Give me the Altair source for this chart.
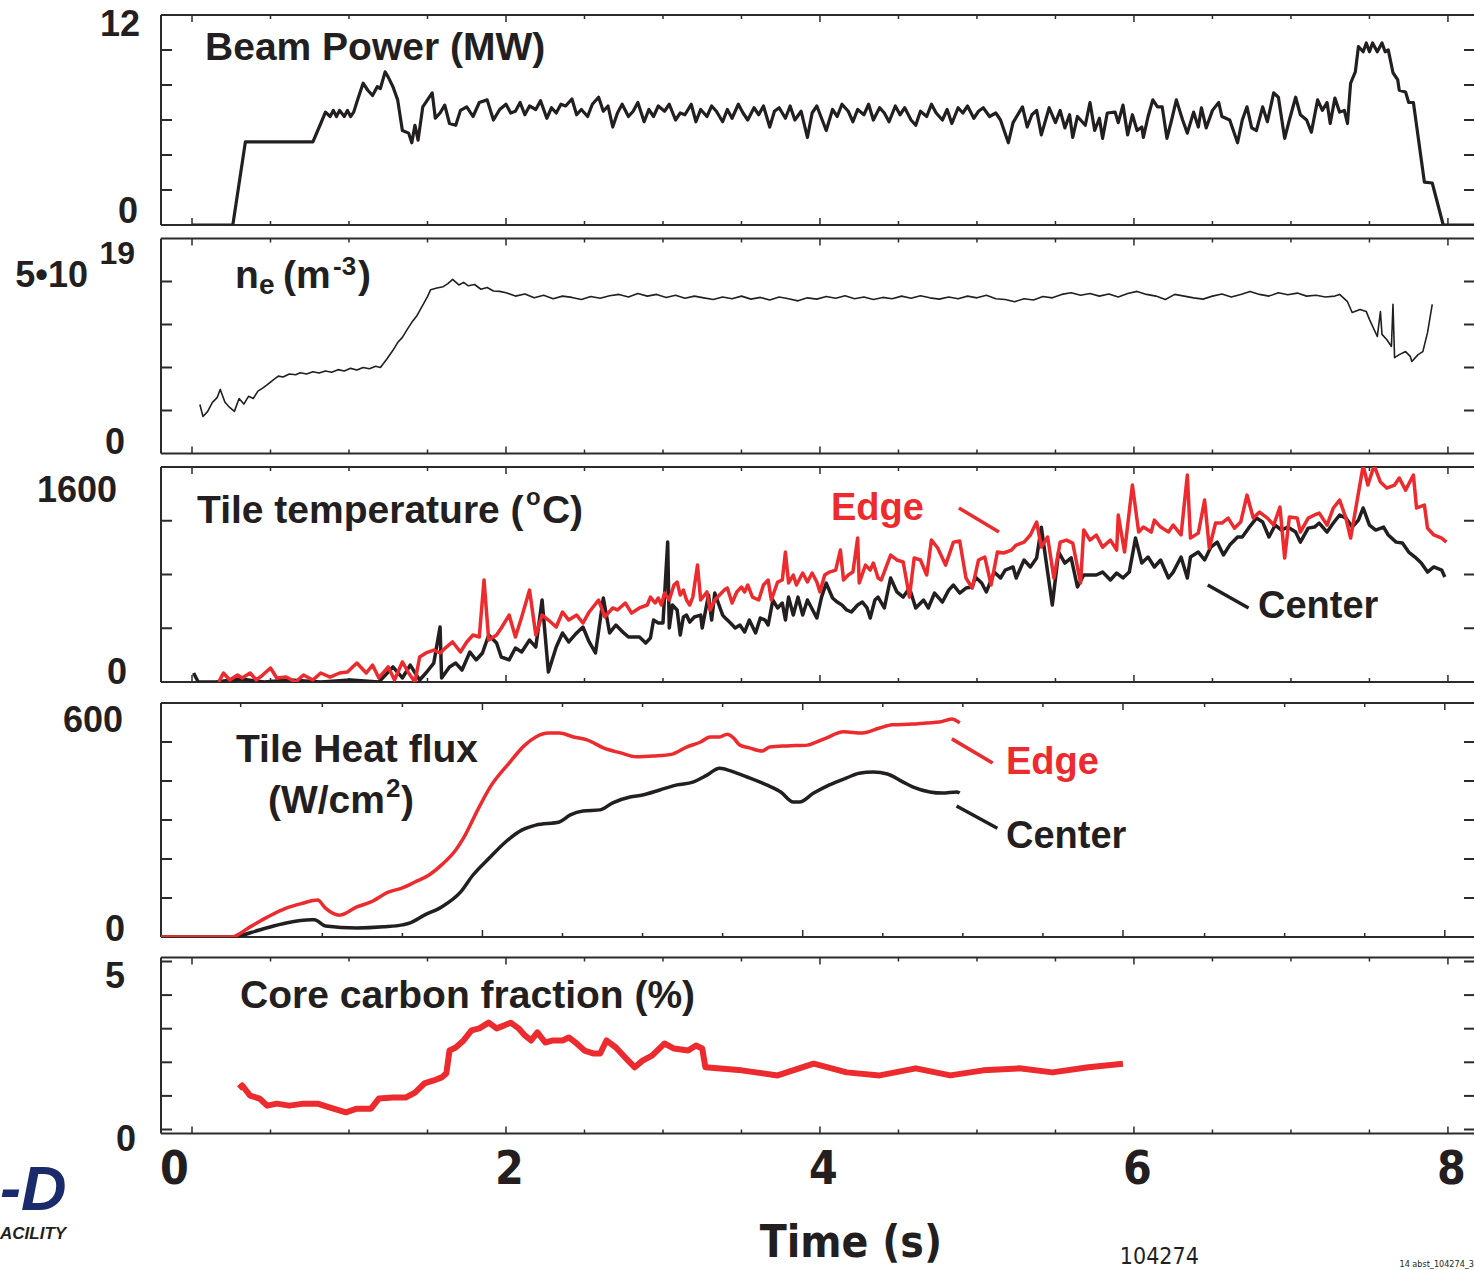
import altair as alt
import pandas as pd

# ---------------- data (time in s, values in panel units) ----------------
beam_power = [(0.00, 0.0), (0.26, 0.0), (0.34, 4.75), (0.77, 4.75), (0.82, 5.8), (0.85, 6.45), (0.88, 6.2), (0.90, 6.55),
              (0.92, 6.2), (0.94, 6.55), (0.97, 6.2), (0.99, 6.55), (1.01, 6.2), (1.03, 6.45), (1.06, 7.3), (1.09, 8.1),
              (1.12, 7.7), (1.15, 7.4), (1.18, 7.9), (1.20, 7.8), (1.23, 8.75), (1.25, 8.45), (1.28, 7.9), (1.31, 7.15),
              (1.34, 5.4), (1.38, 5.25), (1.40, 4.7), (1.42, 5.7), (1.44, 4.85), (1.47, 6.75), (1.50, 7.15), (1.53, 7.55),
              (1.55, 6.1), (1.58, 6.4), (1.61, 6.85), (1.64, 5.8), (1.68, 5.7), (1.71, 6.55), (1.75, 6.75), (1.79, 6.2),
              (1.83, 7.0), (1.88, 7.15), (1.92, 6.0), (1.96, 6.6), (2.00, 6.9), (2.03, 6.4), (2.06, 6.5), (2.09, 7.0),
              (2.12, 6.3), (2.15, 6.8), (2.19, 6.6), (2.22, 7.1), (2.26, 6.1), (2.29, 6.7), (2.32, 6.4), (2.35, 6.9),
              (2.38, 6.8), (2.42, 7.2), (2.45, 6.3), (2.48, 6.6), (2.52, 6.2), (2.55, 6.9), (2.59, 7.3), (2.62, 6.5),
              (2.65, 6.8), (2.68, 5.6), (2.71, 6.4), (2.74, 6.9), (2.78, 6.2), (2.81, 6.5), (2.84, 7.0), (2.88, 5.9),
              (2.91, 6.6), (2.94, 6.2), (2.97, 6.8), (3.01, 6.5), (3.04, 6.9), (3.08, 6.0), (3.11, 6.4), (3.14, 6.3),
              (3.18, 6.9), (3.21, 5.9), (3.24, 6.6), (3.28, 6.2), (3.31, 6.8), (3.34, 6.5), (3.38, 5.9), (3.41, 6.6),
              (3.44, 6.1), (3.48, 6.9), (3.51, 6.4), (3.54, 6.0), (3.58, 6.7), (3.61, 6.3), (3.64, 6.8), (3.68, 5.6),
              (3.71, 6.5), (3.74, 6.7), (3.78, 6.1), (3.81, 6.8), (3.84, 6.0), (3.88, 6.5), (3.92, 5.0), (3.95, 6.4),
              (3.98, 6.8), (4.01, 6.1), (4.04, 5.4), (4.08, 6.6), (4.11, 6.2), (4.14, 6.9), (4.18, 6.5), (4.21, 5.9),
              (4.24, 6.6), (4.28, 6.3), (4.31, 6.9), (4.34, 6.0), (4.38, 6.7), (4.41, 6.4), (4.44, 5.9), (4.48, 6.8),
              (4.51, 6.3), (4.54, 6.7), (4.58, 6.0), (4.61, 5.7), (4.64, 6.5), (4.68, 6.2), (4.71, 6.9), (4.74, 6.4),
              (4.78, 6.0), (4.81, 6.6), (4.84, 5.8), (4.88, 6.7), (4.91, 6.4), (4.94, 6.8), (4.98, 6.1), (5.01, 6.5),
              (5.04, 6.7), (5.08, 6.2), (5.12, 6.4), (5.15, 6.0), (5.20, 4.7), (5.23, 5.85), (5.29, 6.75), (5.32, 5.6),
              (5.35, 6.3), (5.38, 6.55), (5.41, 5.15), (5.46, 6.7), (5.50, 5.85), (5.53, 6.55), (5.56, 5.55), (5.59, 6.3),
              (5.61, 5.0), (5.64, 6.2), (5.69, 5.7), (5.72, 7.0), (5.75, 5.4), (5.78, 6.1), (5.80, 4.95), (5.83, 6.4),
              (5.88, 6.45), (5.90, 5.85), (5.93, 6.85), (5.96, 5.15), (5.99, 6.3), (6.02, 5.4), (6.05, 5.6), (6.06, 5.0),
              (6.09, 6.2), (6.12, 7.15), (6.15, 6.75), (6.18, 6.75), (6.21, 4.95), (6.24, 6.0), (6.27, 7.15), (6.31, 6.0),
              (6.34, 5.25), (6.38, 6.45), (6.41, 5.6), (6.43, 6.7), (6.46, 5.55), (6.50, 6.55), (6.54, 7.0), (6.56, 6.2),
              (6.61, 6.0), (6.66, 4.7), (6.69, 6.0), (6.72, 6.75), (6.75, 5.55), (6.78, 5.4), (6.82, 6.75), (6.85, 5.9),
              (6.89, 7.55), (6.92, 7.3), (6.96, 4.95), (6.99, 6.0), (7.03, 7.3), (7.06, 6.3), (7.10, 6.0), (7.13, 5.3),
              (7.17, 7.15), (7.20, 6.55), (7.23, 7.0), (7.25, 5.8), (7.28, 7.25), (7.31, 6.45), (7.34, 6.55), (7.36, 5.8),
              (7.38, 8.1), (7.41, 8.75), (7.43, 10.2), (7.46, 9.9), (7.48, 10.4), (7.50, 9.9), (7.52, 10.4), (7.55, 9.9),
              (7.58, 10.4), (7.60, 9.9), (7.62, 10.0), (7.65, 8.7), (7.68, 8.3), (7.69, 7.7), (7.73, 7.6), (7.75, 7.0),
              (7.78, 7.0), (7.85, 2.45), (7.90, 2.4), (7.97, 0.0), (8.17, 0.0)]

density = [(0.05, 1.14), (0.07, 0.86), (0.10, 0.98), (0.13, 1.19), (0.16, 1.30), (0.18, 1.49), (0.21, 1.19), (0.24, 1.07),
           (0.27, 0.98), (0.30, 1.28), (0.33, 1.15), (0.36, 1.33), (0.39, 1.28), (0.42, 1.45), (0.45, 1.52), (0.48, 1.60),
           (0.52, 1.72), (0.55, 1.80), (0.58, 1.78), (0.62, 1.85), (0.66, 1.83), (0.69, 1.88), (0.73, 1.85), (0.77, 1.90),
           (0.81, 1.87), (0.85, 1.92), (0.89, 1.89), (0.93, 1.95), (0.97, 1.92), (1.01, 1.98), (1.05, 1.94), (1.09, 2.00),
           (1.13, 1.97), (1.17, 2.03), (1.20, 2.00), (1.24, 2.19), (1.28, 2.40), (1.31, 2.58), (1.34, 2.70), (1.37, 2.88),
           (1.40, 3.05), (1.43, 3.19), (1.47, 3.45), (1.50, 3.65), (1.52, 3.81), (1.56, 3.85), (1.60, 3.88), (1.63, 3.95),
           (1.66, 4.05), (1.70, 3.92), (1.73, 3.98), (1.76, 3.90), (1.80, 3.93), (1.84, 3.82), (1.88, 3.86), (1.92, 3.78),
           (1.96, 3.77), (2.00, 3.74), (2.06, 3.66), (2.12, 3.71), (2.18, 3.62), (2.24, 3.68), (2.30, 3.60), (2.36, 3.66),
           (2.42, 3.63), (2.48, 3.58), (2.54, 3.65), (2.60, 3.61), (2.66, 3.67), (2.72, 3.70), (2.78, 3.64), (2.84, 3.72),
           (2.90, 3.66), (2.96, 3.70), (3.02, 3.63), (3.08, 3.68), (3.14, 3.61), (3.20, 3.66), (3.26, 3.62), (3.32, 3.58),
           (3.38, 3.64), (3.44, 3.60), (3.50, 3.66), (3.56, 3.59), (3.62, 3.63), (3.68, 3.57), (3.74, 3.64), (3.80, 3.60),
           (3.86, 3.55), (3.92, 3.62), (3.98, 3.59), (4.04, 3.65), (4.10, 3.61), (4.16, 3.67), (4.22, 3.60), (4.28, 3.64),
           (4.34, 3.58), (4.40, 3.63), (4.46, 3.60), (4.52, 3.66), (4.58, 3.61), (4.64, 3.67), (4.70, 3.62), (4.76, 3.59),
           (4.82, 3.64), (4.88, 3.60), (4.94, 3.66), (5.00, 3.62), (5.06, 3.68), (5.12, 3.60), (5.18, 3.58), (5.24, 3.53),
           (5.30, 3.60), (5.36, 3.57), (5.42, 3.65), (5.48, 3.62), (5.54, 3.70), (5.60, 3.74), (5.66, 3.68), (5.72, 3.72),
           (5.78, 3.66), (5.84, 3.71), (5.90, 3.64), (5.96, 3.72), (6.02, 3.77), (6.08, 3.70), (6.14, 3.66), (6.20, 3.58),
           (6.26, 3.70), (6.32, 3.66), (6.38, 3.62), (6.44, 3.59), (6.50, 3.66), (6.56, 3.71), (6.62, 3.64), (6.68, 3.70),
           (6.74, 3.77), (6.80, 3.70), (6.86, 3.66), (6.92, 3.74), (6.98, 3.69), (7.04, 3.73), (7.10, 3.66), (7.16, 3.68),
           (7.22, 3.64), (7.28, 3.66), (7.31, 3.70), (7.36, 3.53), (7.39, 3.28), (7.44, 3.35), (7.48, 3.30), (7.50, 3.12),
           (7.55, 2.72), (7.57, 3.30), (7.58, 2.77), (7.61, 2.65), (7.64, 2.49), (7.65, 3.47), (7.66, 2.23), (7.69, 2.30),
           (7.73, 2.37), (7.76, 2.26), (7.77, 2.14), (7.81, 2.30), (7.84, 2.37), (7.87, 2.81), (7.90, 3.47)]

temp_edge = [(0.17, 0), (0.20, 67), (0.24, 15), (0.29, 52), (0.32, 30), (0.37, 67), (0.41, 15), (0.45, 52), (0.50, 104),
             (0.54, 30), (0.60, 37), (0.66, 0), (0.71, 52), (0.77, 15), (0.82, 67), (0.88, 37), (0.94, 67), (0.99, 74),
             (1.05, 141), (1.11, 67), (1.15, 126), (1.19, 30), (1.25, 112), (1.29, 15), (1.34, 149), (1.38, 67), (1.42, 0),
             (1.45, 186), (1.49, 216), (1.54, 238), (1.58, 216), (1.62, 260), (1.66, 298), (1.71, 223), (1.75, 298),
             (1.79, 350), (1.83, 335), (1.86, 759), (1.89, 312), (1.94, 350), (1.97, 402), (2.02, 498), (2.06, 335),
             (2.10, 484), (2.15, 684), (2.19, 350), (2.23, 498), (2.27, 461), (2.32, 409), (2.36, 521), (2.40, 461),
             (2.45, 498), (2.49, 439), (2.53, 521), (2.59, 610), (2.63, 484), (2.68, 551), (2.71, 536), (2.76, 588),
             (2.80, 513), (2.85, 551), (2.90, 573), (2.92, 632), (2.95, 588), (2.97, 625), (2.99, 573), (3.01, 662),
             (3.04, 610), (3.07, 722), (3.09, 744), (3.11, 647), (3.13, 684), (3.15, 610), (3.17, 573), (3.19, 632),
             (3.22, 870), (3.24, 610), (3.28, 670), (3.30, 536), (3.33, 610), (3.36, 647), (3.39, 684), (3.41, 699),
             (3.44, 588), (3.47, 670), (3.50, 707), (3.52, 670), (3.54, 722), (3.57, 632), (3.61, 610), (3.64, 722),
             (3.67, 759), (3.69, 610), (3.73, 744), (3.76, 759), (3.78, 967), (3.80, 737), (3.83, 796), (3.85, 722),
             (3.89, 811), (3.92, 744), (3.95, 811), (3.98, 744), (4.00, 670), (4.03, 796), (4.06, 818), (4.10, 833),
             (4.13, 982), (4.15, 759), (4.18, 796), (4.21, 818), (4.24, 1071), (4.25, 737), (4.29, 870), (4.32, 833),
             (4.34, 885), (4.37, 774), (4.39, 759), (4.45, 945), (4.49, 908), (4.53, 893), (4.57, 632), (4.60, 923),
             (4.64, 908), (4.68, 796), (4.71, 1056), (4.75, 997), (4.80, 870), (4.85, 1041), (4.89, 1049), (4.93, 774),
             (4.97, 699), (5.01, 908), (5.05, 930), (5.09, 722), (5.13, 967), (5.17, 960), (5.22, 982), (5.25, 1019),
             (5.30, 1041), (5.34, 1094), (5.38, 1190), (5.41, 1004), (5.45, 1079), (5.49, 774), (5.53, 1041), (5.57, 1056),
             (5.61, 1034), (5.66, 737), (5.68, 1131), (5.72, 1056), (5.76, 1094), (5.80, 1004), (5.85, 1056), (5.89, 982),
             (5.90, 1243), (5.94, 967), (5.99, 1466), (6.03, 1116), (6.06, 1153), (6.11, 1116), (6.13, 1205), (6.17, 1153),
             (6.22, 1116), (6.25, 1168), (6.30, 1094), (6.34, 1540), (6.36, 1071), (6.41, 1108), (6.45, 1354), (6.48, 997),
             (6.52, 1183), (6.56, 1183), (6.60, 1220), (6.64, 1145), (6.68, 1190), (6.72, 1391), (6.76, 1220), (6.80, 1265),
             (6.85, 1220), (6.89, 1168), (6.93, 1302), (6.96, 923), (6.99, 1228), (7.04, 1220), (7.06, 1116), (7.11, 1220),
             (7.15, 1243), (7.18, 1257), (7.23, 1168), (7.27, 1295), (7.31, 1354), (7.35, 1220), (7.38, 1071), (7.42, 1339),
             (7.46, 1610), (7.49, 1466), (7.53, 1610), (7.57, 1488), (7.61, 1443), (7.66, 1466), (7.69, 1518), (7.73, 1428),
             (7.78, 1540), (7.80, 1295), (7.85, 1317), (7.87, 1145), (7.91, 1094), (7.96, 1071), (7.99, 1041)]

temp_center = [(0.01, 67), (0.04, 0), (0.15, 0), (0.31, 22), (0.46, 0), (0.62, 15), (0.82, 0), (1.01, 15), (1.19, 0),
               (1.28, 112), (1.34, 30), (1.39, 126), (1.45, 15), (1.49, 67), (1.54, 141), (1.58, 409), (1.59, 30),
               (1.64, 112), (1.68, 141), (1.72, 89), (1.77, 223), (1.81, 164), (1.85, 216), (1.89, 350), (1.94, 290),
               (1.97, 186), (2.02, 164), (2.06, 253), (2.10, 223), (2.15, 312), (2.19, 260), (2.23, 610), (2.27, 74),
               (2.32, 260), (2.36, 365), (2.40, 298), (2.45, 365), (2.49, 409), (2.53, 298), (2.57, 216), (2.62, 625),
               (2.66, 365), (2.70, 424), (2.75, 365), (2.78, 335), (2.85, 335), (2.89, 290), (2.92, 327), (2.94, 461),
               (2.97, 439), (3.00, 439), (3.03, 1041), (3.04, 402), (3.06, 573), (3.09, 536), (3.11, 350), (3.13, 484),
               (3.15, 498), (3.17, 446), (3.20, 484), (3.24, 498), (3.25, 402), (3.29, 647), (3.31, 461), (3.33, 662),
               (3.35, 595), (3.38, 498), (3.39, 484), (3.43, 439), (3.46, 402), (3.49, 424), (3.52, 372), (3.55, 461),
               (3.59, 365), (3.62, 476), (3.65, 461), (3.67, 424), (3.70, 610), (3.73, 551), (3.76, 588), (3.78, 461),
               (3.80, 632), (3.83, 498), (3.86, 632), (3.89, 498), (3.92, 610), (3.96, 521), (3.98, 476), (4.01, 632),
               (4.04, 736), (4.08, 625), (4.11, 595), (4.14, 573), (4.17, 536), (4.20, 521), (4.24, 573), (4.27, 595),
               (4.30, 551), (4.32, 476), (4.35, 610), (4.37, 632), (4.41, 551), (4.45, 774), (4.49, 670), (4.53, 632),
               (4.57, 699), (4.61, 551), (4.66, 610), (4.69, 551), (4.73, 662), (4.78, 595), (4.82, 684), (4.85, 722),
               (4.89, 662), (4.93, 699), (4.97, 707), (4.99, 781), (5.03, 737), (5.06, 670), (5.11, 818), (5.15, 774),
               (5.18, 833), (5.23, 856), (5.25, 774), (5.30, 908), (5.34, 856), (5.38, 923), (5.41, 1152), (5.45, 818),
               (5.48, 573), (5.52, 967), (5.56, 885), (5.60, 923), (5.64, 707), (5.68, 796), (5.72, 796), (5.76, 796),
               (5.80, 818), (5.85, 759), (5.89, 811), (5.93, 774), (5.97, 818), (6.01, 1071), (6.05, 885), (6.09, 930),
               (6.13, 856), (6.17, 908), (6.22, 774), (6.25, 818), (6.30, 930), (6.34, 774), (6.36, 930), (6.41, 967),
               (6.45, 908), (6.49, 1004), (6.53, 1041), (6.57, 945), (6.61, 1019), (6.66, 1079), (6.69, 1079), (6.73, 1145),
               (6.78, 1220), (6.82, 1190), (6.86, 1079), (6.90, 1168), (6.94, 1131), (6.98, 1153), (7.03, 1116), (7.06, 1041),
               (7.11, 1145), (7.15, 1153), (7.18, 1183), (7.23, 1116), (7.27, 1183), (7.31, 1243), (7.35, 1220), (7.39, 1153),
               (7.43, 1205), (7.46, 1295), (7.50, 1168), (7.54, 1131), (7.59, 1153), (7.62, 1094), (7.67, 1041), (7.71, 1034),
               (7.75, 967), (7.79, 930), (7.83, 885), (7.87, 818), (7.91, 856), (7.96, 833), (7.98, 781)]

flux_edge = [(-0.20, 0), (0.25, 0), (0.37, 26), (0.48, 51), (0.60, 74), (0.70, 86), (0.80, 95), (0.85, 74), (0.94, 56),
             (1.05, 77), (1.14, 90), (1.25, 115), (1.34, 126), (1.42, 141), (1.51, 159), (1.59, 185), (1.68, 223),
             (1.73, 254), (1.82, 326), (1.90, 385), (2.02, 446), (2.12, 492), (2.19, 513), (2.27, 523), (2.34, 523),
             (2.43, 513), (2.52, 505), (2.62, 485), (2.73, 472), (2.83, 462), (2.94, 464), (3.06, 469), (3.15, 487),
             (3.24, 500), (3.30, 513), (3.36, 513), (3.41, 520), (3.45, 510), (3.49, 492), (3.55, 485), (3.63, 477),
             (3.68, 487), (3.79, 490), (3.92, 492), (3.96, 497), (4.04, 510), (4.15, 526), (4.27, 523), (4.38, 536),
             (4.46, 544), (4.59, 546), (4.68, 549), (4.76, 551), (4.84, 559), (4.89, 549)]

flux_center = [(-0.20, 0), (0.25, 0), (0.43, 18), (0.60, 36), (0.76, 44), (0.78, 44), (0.85, 28), (1.05, 23), (1.22, 26),
               (1.34, 31), (1.39, 36), (1.48, 56), (1.59, 77), (1.71, 115), (1.79, 159), (1.90, 205), (1.99, 241),
               (2.10, 274), (2.19, 287), (2.34, 295), (2.41, 313), (2.49, 323), (2.60, 326), (2.68, 344), (2.79, 359),
               (2.87, 364), (2.98, 377), (3.09, 390), (3.19, 397), (3.28, 415), (3.36, 433), (3.47, 420), (3.55, 408),
               (3.66, 390), (3.75, 372), (3.83, 346), (3.87, 346), (3.96, 369), (4.06, 390), (4.17, 408), (4.25, 420),
               (4.34, 423), (4.43, 418), (4.53, 397), (4.59, 385), (4.70, 372), (4.78, 369), (4.87, 372), (4.89, 369)]

carbon = [(0.30, 1.22), (0.32, 1.31), (0.37, 1.01), (0.43, 0.92), (0.48, 0.71), (0.54, 0.77), (0.62, 0.71), (0.71, 0.77),
          (0.80, 0.77), (0.88, 0.65), (0.98, 0.51), (1.05, 0.62), (1.14, 0.62), (1.19, 0.92), (1.28, 0.95), (1.36, 0.95),
          (1.42, 1.10), (1.48, 1.37), (1.54, 1.46), (1.59, 1.55), (1.62, 1.67), (1.64, 2.35), (1.68, 2.44), (1.73, 2.65),
          (1.78, 2.95), (1.83, 3.01), (1.89, 3.18), (1.94, 3.01), (1.99, 3.10), (2.03, 3.18), (2.08, 3.01), (2.12, 2.80),
          (2.16, 2.65), (2.20, 2.89), (2.25, 2.59), (2.30, 2.65), (2.36, 2.65), (2.40, 2.74), (2.45, 2.56), (2.50, 2.35),
          (2.56, 2.26), (2.60, 2.26), (2.64, 2.65), (2.70, 2.44), (2.76, 2.14), (2.82, 1.85), (2.87, 2.05), (2.93, 2.20),
          (3.01, 2.56), (3.07, 2.41), (3.16, 2.35), (3.21, 2.50), (3.25, 2.41), (3.27, 1.85), (3.50, 1.76), (3.73, 1.61),
          (3.96, 1.96), (4.17, 1.70), (4.38, 1.61), (4.61, 1.82), (4.83, 1.61), (5.04, 1.76), (5.27, 1.82), (5.48, 1.70),
          (5.71, 1.85), (5.93, 1.96)]

time_ticks_minor = [0.5, 1.0, 1.5, 2.5, 3.0, 3.5, 4.5, 5.0, 5.5, 6.5, 7.0, 7.5]
time_ticks_major = [0, 2, 4, 6, 8]
flux_ticks_minor = [0.31, 0.83, 1.34, 2.36, 2.87, 3.38, 4.40, 4.91, 5.42, 6.45, 6.96, 7.47]
flux_ticks_major = [1.85, 3.89, 5.93, 7.98]
time_labels = [0, 2, 4, 6, 8]

# ---------------- styling ----------------
BLACK = "#231f20"
RED = "#ed2a2e"
FRAME = "#2b2b2b"
NAVY = "#1b2a6b"
FONT = "Liberation Sans"
COND = "DejaVu Sans Condensed, Liberation Sans, sans-serif"

W = 1313
XDOM = [-0.1975, 8.166]
XS = alt.Scale(domain=XDOM, nice=False, zero=False)
ONE = pd.DataFrame({"k": [0]})


def yscale(lo, hi, h, off):
    return alt.Scale(domain=[lo, hi], range=[off + h, off], nice=False, zero=False)


def frame(h, off, ys, yticks, xminor, xmajor, xaxis):
    layers = []
    border = alt.Chart(ONE).mark_rule(color=FRAME, strokeWidth=2)
    layers.append(border.encode(y=alt.value(off)))
    layers.append(border.encode(y=alt.value(off + h)))
    layers.append(border.encode(x=alt.value(0), y=alt.value(off), y2=alt.value(off + h)))
    for vals, ln in ((xminor, 4), (xmajor, 7)):
        base = alt.Chart(pd.DataFrame({"t": vals})).mark_rule(color=FRAME, strokeWidth=1.5)
        xe = alt.X("t:Q", scale=XS, axis=xaxis)
        layers.append(base.encode(x=xe, y=alt.value(off), y2=alt.value(off + ln)))
        layers.append(base.encode(x=xe, y=alt.value(off + h - ln), y2=alt.value(off + h)))
    base = alt.Chart(pd.DataFrame({"v": yticks})).mark_rule(color=FRAME, strokeWidth=2)
    ye = alt.Y("v:Q", scale=ys, axis=None)
    layers.append(base.encode(y=ye, x=alt.value(0), x2=alt.value(11)))
    layers.append(base.encode(y=ye, x=alt.value(W - 10), x2=alt.value(W)))
    return layers


def series(pairs, ys, color, width, xaxis, interp="linear"):
    df = pd.DataFrame(pairs, columns=["t", "v"])
    df["i"] = range(len(df))
    return alt.Chart(df).mark_line(color=color, strokeWidth=width, clip=True, interpolate=interp,
                                   strokeJoin="round").encode(
        x=alt.X("t:Q", scale=XS, axis=xaxis),
        y=alt.Y("v:Q", scale=ys, axis=None),
        order="i:Q")


def text(t, v, s, ys, xaxis, size=39, color=BLACK, font=FONT, weight="bold", align="left",
         baseline="alphabetic", style="normal"):
    return alt.Chart(ONE).mark_text(text=s, font=font, fontSize=size, fontWeight=weight, color=color,
                                    align=align, baseline=baseline, fontStyle=style).encode(
        x=alt.XDatum(t, type="quantitative", scale=XS, axis=xaxis),
        y=alt.YDatum(v, type="quantitative", scale=ys, axis=None))


def ylab(px, v, dy, s, ys, size=36):
    return alt.Chart(ONE).mark_text(text=s, font=FONT, fontSize=size, fontWeight="bold", color=BLACK,
                                    align="right", baseline="middle", dy=dy).encode(
        x=alt.value(px), y=alt.YDatum(v, type="quantitative", scale=ys, axis=None))


def pointer(t1, v1, t2, v2, ys, color, xaxis):
    return alt.Chart(ONE).mark_rule(color=color, strokeWidth=3.5).encode(
        x=alt.XDatum(t1, type="quantitative", scale=XS, axis=xaxis), x2=alt.X2Datum(t2),
        y=alt.YDatum(v1, type="quantitative", scale=ys, axis=None), y2=alt.Y2Datum(v2))


# ---------- panel 1: beam power ----------
ys1 = yscale(0, 12, 210, 0)
p1 = alt.layer(
    *frame(210, 0, ys1, [2, 4, 6, 8, 10], time_ticks_minor, time_ticks_major, None),
    series(beam_power, ys1, BLACK, 3.2, None),
    text(0.083, 9.43, "Beam Power (MW)", ys1, None),
    ylab(-21, 12, 10, "12", ys1),
    ylab(-23, 0, -13, "0", ys1),
).properties(width=W, height=210)

# ---------- panel 2: density ----------
ys2 = yscale(0, 5, 215, 0)
p2 = alt.layer(
    *frame(215, 0, ys2, [1, 2, 3, 4], time_ticks_minor, time_ticks_major, None),
    series(density, ys2, BLACK, 1.6, None),
    text(0.274, 3.84, "n", ys2, None),
    text(0.427, 3.70, "e", ys2, None, size=28),
    text(0.58, 3.84, "(m", ys2, None),
    text(0.898, 4.16, "-3", ys2, None, size=26),
    text(1.057, 3.84, ")", ys2, None),
    ylab(-73, 5, 37, "5•10", ys2),
    ylab(-26, 5, 15, "19", ys2, size=32),
    ylab(-36, 0, -11, "0", ys2),
).properties(width=W, height=215)

# ---------- panel 3: tile temperature ----------
ys3 = yscale(0, 1600, 215, 0)
p3 = alt.layer(
    *frame(215, 0, ys3, [400, 800, 1200], time_ticks_minor, time_ticks_major, None),
    series(temp_center, ys3, BLACK, 3.5, None),
    series(temp_edge, ys3, RED, 3.5, None),
    text(0.032, 1183, "Tile temperature (", ys3, None),
    text(2.127, 1317, "o", ys3, None, size=24),
    text(2.229, 1183, "C)", ys3, None),
    text(4.07, 1205, "Edge", ys3, None, size=38, color=RED),
    pointer(4.885, 1295, 5.14, 1116, ys3, RED, None),
    text(6.79, 476, "Center", ys3, None, size=38),
    pointer(6.47, 722, 6.73, 551, ys3, BLACK, None),
    ylab(-44, 1600, 24, "1600", ys3),
    ylab(-34, 0, -9, "0", ys3),
).properties(width=W, height=215)

# ---------- panel 4: tile heat flux (plot starts 7.5 px below its cell top) ----------
OFF4 = 7.5
ys4 = yscale(0, 600, 234, OFF4)
p4 = alt.layer(
    *frame(234, OFF4, ys4, [100, 200, 300, 400, 500], flux_ticks_minor, flux_ticks_major, None),
    series(flux_center, ys4, BLACK, 3.5, None, "monotone"),
    series(flux_edge, ys4, RED, 3.5, None, "monotone"),
    text(0.28, 449, "Tile Heat flux", ys4, None),
    text(0.484, 318, "(W/cm", ys4, None),
    text(1.236, 359, "2", ys4, None, size=26),
    text(1.331, 318, ")", ys4, None),
    text(5.185, 418, "Edge", ys4, None, size=38, color=RED),
    pointer(4.84, 508, 5.10, 446, ys4, RED, None),
    text(5.185, 228, "Center", ys4, None, size=38),
    pointer(4.87, 336, 5.13, 279, ys4, BLACK, None),
    ylab(-38, 600, 18, "600", ys4),
    ylab(-36, 0, -7, "0", ys4),
).properties(width=W, height=234 + OFF4)

# ---------- panel 5: core carbon fraction (plot starts 6.5 px below its cell top) ----------
OFF5 = 6.5
AX5 = alt.Axis(values=time_labels, labelFont=COND, labelFontSize=46, labelFontWeight="bold",
               labelColor=BLACK, labelPadding=14, domain=False, ticks=False, grid=False, title=None,
               labelFlush=False,
               labelOffset={"condition": {"test": "datum.value == 0", "value": -18}, "value": 3})
ys5 = yscale(-0.119, 5.119, 176, OFF5)
p5 = alt.layer(
    *frame(176, OFF5, ys5, [0, 1, 2, 3, 4, 5], time_ticks_minor, time_ticks_major, AX5),
    series(carbon, ys5, RED, 6, AX5),
    text(0.306, 3.63, "Core carbon fraction (%)", ys5, AX5),
    ylab(-36, 5, 16, "5", ys5),
    ylab(-25, 0, 10, "0", ys5),
    alt.Chart(ONE).mark_text(text="Time (s)", font=COND, fontSize=44, fontWeight="bold", color=BLACK,
                             align="center", baseline="alphabetic").encode(
        x=alt.XDatum(4.197, type="quantitative", scale=XS, axis=AX5), y=alt.value(OFF5 + 299)),
    alt.Chart(ONE).mark_text(text="104274", font=COND, fontSize=23, color=BLACK,
                             align="left", baseline="alphabetic").encode(
        x=alt.XDatum(5.91, type="quantitative", scale=XS, axis=AX5), y=alt.value(OFF5 + 306)),
    alt.Chart(ONE).mark_text(text="14 abst_104274_3", font=COND, fontSize=9, color=BLACK,
                             align="right", baseline="alphabetic").encode(
        x=alt.value(W), y=alt.value(OFF5 + 309)),
    alt.Chart(ONE).mark_text(text="-D", font=FONT, fontSize=63, fontWeight="bold", fontStyle="italic",
                             color=NAVY, align="left", baseline="alphabetic").encode(
        x=alt.value(-161), y=alt.value(OFF5 + 252)),
    alt.Chart(ONE).mark_text(text="ACILITY", font=FONT, fontSize=17, fontWeight="bold", fontStyle="italic",
                             color=BLACK, align="left", baseline="alphabetic").encode(
        x=alt.value(-161), y=alt.value(OFF5 + 281)),
).properties(width=W, height=176 + OFF5)

chart = alt.vconcat(p1, p2, p3, p4, p5, spacing=13.5, bounds="flush").properties(
    padding={"left": 0, "top": 7, "right": 0, "bottom": 0},
    background="white",
).configure_view(stroke=None)

chart.save("out.html", embed_options={"renderer": "svg", "actions": False})
